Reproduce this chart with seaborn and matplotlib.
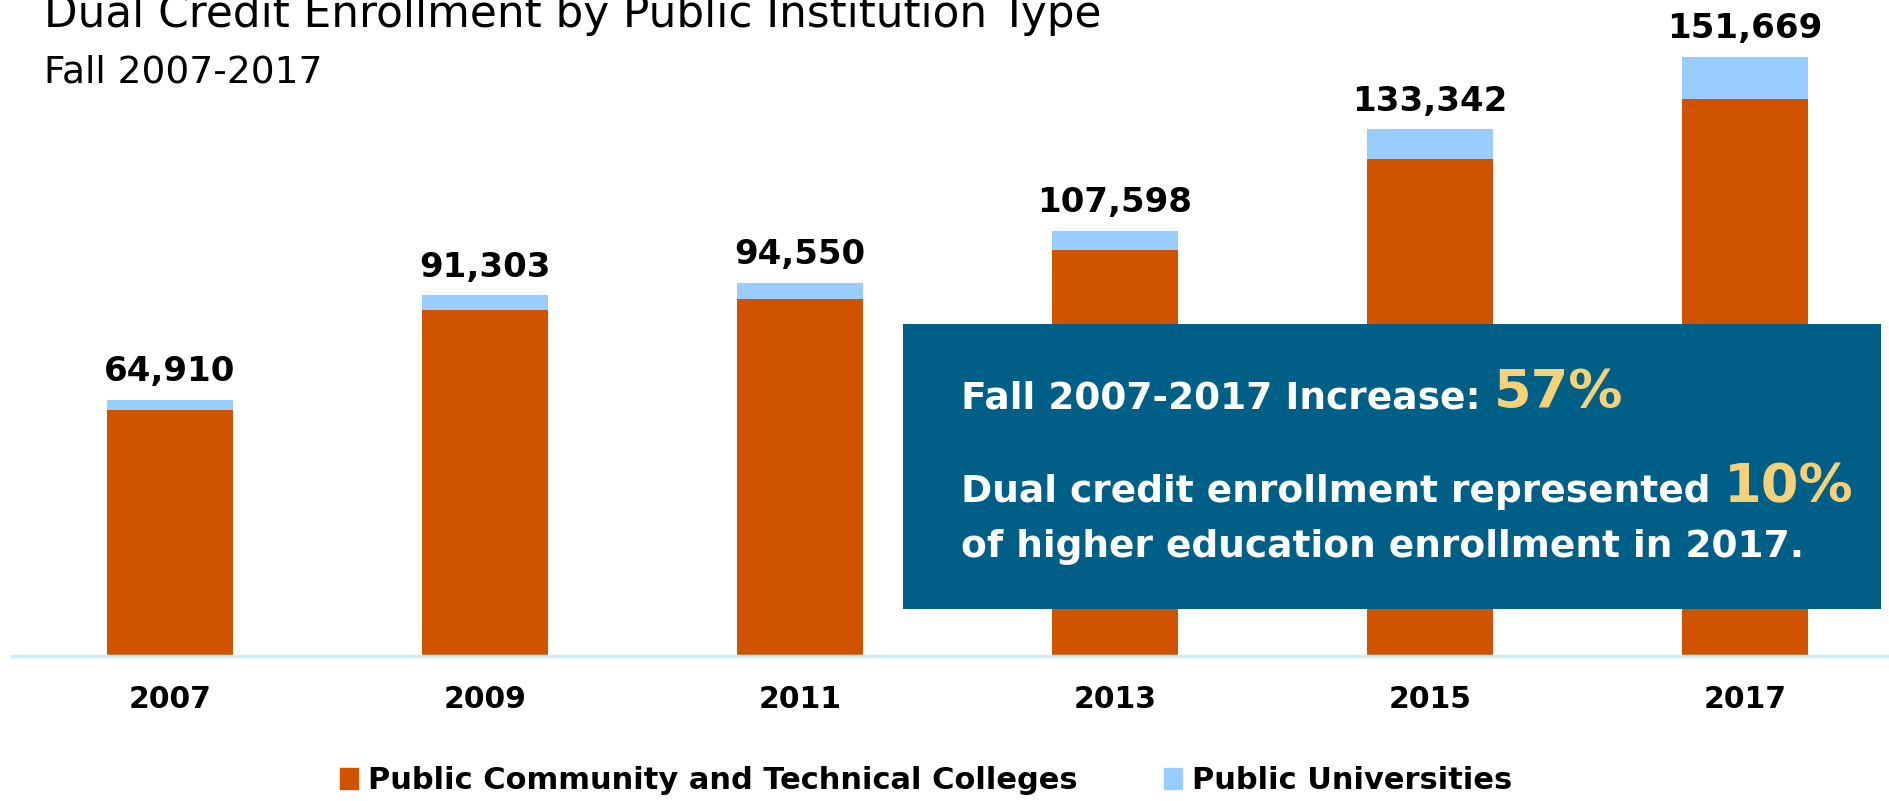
import matplotlib.pyplot as plt
import matplotlib.patches as mpatches
import pandas as pd
import seaborn as sns

years = ['2007', '2009', '2011', '2013', '2015', '2017']
total = [64910, 91303, 94550, 107598, 133342, 151669]
community = [62260, 87590, 90340, 102850, 125740, 141000]
labels = ['64,910', '91,303', '94,550', '107,598', '133,342', '151,669']

df = pd.DataFrame({'year': years, 'total': total, 'community': community})

orange = '#D05400'
lightblue = '#99CCFF'
boxblue = '#005F86'
gold = '#F5D27A'

sns.set_style('white')
plt.rcParams['font.family'] = ['DejaVu Sans']
plt.rcParams['text.color'] = 'black'
plt.rcParams['xtick.color'] = 'black'

fig = plt.figure(figsize=(18.9, 8.01), dpi=100)
ax = fig.add_axes([0.0063, 0.181, 0.9937, 0.819])

sns.barplot(x='year', y='total', data=df, color=lightblue, width=0.4, saturation=1,
            linewidth=0, ax=ax)
sns.barplot(x='year', y='community', data=df, color=orange, width=0.4, saturation=1,
            linewidth=0, ax=ax)

for i, row in df.iterrows():
    ax.annotate(labels[i], xy=(i, row.total), xytext=(0, 8.5), textcoords='offset points',
                ha='center', va='bottom', fontsize=24.5, fontweight='bold', color='black',
                annotation_clip=False)

ax.set_xlim(-0.502, 5.46)
ax.set_ylim(0, 166100)
ax.set_xlabel('')
ax.set_ylabel('')
ax.set_yticks([])
ax.tick_params(axis='x', length=0, pad=21, labelsize=21.5, labelcolor='black')
for lab in ax.get_xticklabels():
    lab.set_fontweight('bold')
for s in ['top', 'right', 'left']:
    ax.spines[s].set_visible(False)
ax.spines['bottom'].set_color('#CDEDF9')
ax.spines['bottom'].set_linewidth(2.5)

# titles (the reference crops the top of the main title)
fig.text(0.0235, 0.966, 'Dual Credit Enrollment by Public Institution Type', fontsize=31.5,
         ha='left', va='baseline', color='black')
fig.text(0.0235, 0.8976, 'Fall 2007-2017', fontsize=27, ha='left', va='baseline',
         color='black')

# callout box
box = mpatches.Rectangle((0.478, 0.240), 0.517, 0.356, transform=fig.transFigure,
                         facecolor=boxblue, edgecolor='none', zorder=5)
fig.patches.append(box)

fig.canvas.draw()
r = fig.canvas.get_renderer()

def mixed(x, y, parts):
    for txt, col, size in parts:
        t = fig.text(x, y, txt, color=col, fontsize=size, fontweight='bold',
                     ha='left', va='baseline', zorder=6)
        bb = t.get_window_extent(renderer=r)
        x = bb.x1 / fig.bbox.width

mixed(0.5085, 0.4906, [('Fall 2007-2017 Increase: ', 'white', 27), ('57%', gold, 39)])
mixed(0.5085, 0.3733, [('Dual credit enrollment represented ', 'white', 27), ('10%', gold, 39)])
mixed(0.5085, 0.304, [('of higher education enrollment in 2017.', 'white', 27)])

# legend
blue_patch = mpatches.Patch(color=lightblue, label='Public Universities')
orange_patch = mpatches.Patch(color=orange, label='Public Community and Technical Colleges')
leg = fig.legend(handles=[orange_patch, blue_patch], loc='center', bbox_to_anchor=(0.49, 0.025),
                 ncol=2, frameon=False, prop={'size': 22, 'weight': 'bold'},
                 handlelength=0.6, handleheight=0.7, handletextpad=0.33, columnspacing=2.8)
for t in leg.get_texts():
    t.set_color('black')

plt.savefig('out.png', dpi=100)
